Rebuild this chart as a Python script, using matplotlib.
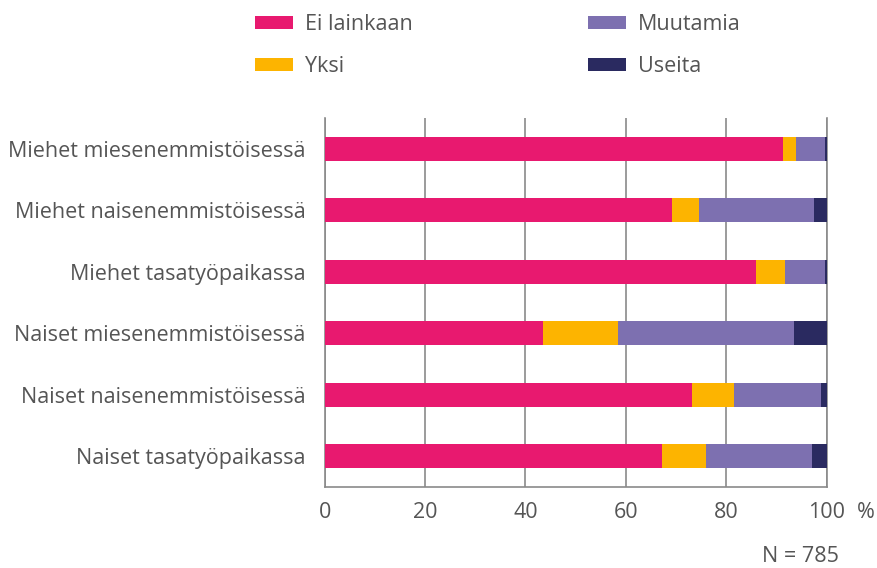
import numpy as np
import matplotlib.pyplot as plt

plt.rcParams['font.family'] = ['Open Sans', 'DejaVu Sans']

categories = ['Miehet miesenemmistöisessä', 'Miehet naisenemmistöisessä',
              'Miehet tasatyöpaikassa', 'Naiset miesenemmistöisessä',
              'Naiset naisenemmistöisessä', 'Naiset tasatyöpaikassa']
ei_lainkaan = [91.3, 69.1, 86.0, 43.5, 73.1, 67.1]
yksi = [2.5, 5.4, 5.6, 14.9, 8.4, 8.9]
muutamia = [5.8, 23.0, 8.0, 35.1, 17.3, 21.1]
useita = [0.4, 2.5, 0.4, 6.5, 1.2, 2.9]

series = [('Ei lainkaan', ei_lainkaan, '#E8196F'),
          ('Yksi', yksi, '#FDB400'),
          ('Muutamia', muutamia, '#7D70B0'),
          ('Useita', useita, '#2A2A60')]

text_col = '#555555'
grid_col = '#8a8a8a'
fs = 15.5

fig = plt.figure(figsize=(8.78, 5.68), dpi=100)
ax = fig.add_axes([324.7 / 878, 1 - 487 / 568, 502 / 878, 369 / 568])

y = np.arange(len(categories))
left = np.zeros(len(categories))
for name, vals, col in series:
    ax.barh(y, vals, left=left, height=0.39, color=col, label=name, linewidth=0, zorder=3)
    left += np.array(vals)

ax.set_xlim(0, 100)
ax.set_ylim(len(categories) - 0.5, -0.5)
ax.set_yticks(y)
ax.set_yticklabels(categories, fontsize=fs, color=text_col)
ax.set_xticks([0, 20, 40, 60, 80, 100])
ax.set_xticklabels(['0', '20', '40', '60', '80', '100'], fontsize=fs, color=text_col)
ax.tick_params(axis='y', length=0, pad=14)
ax.tick_params(axis='x', length=0, pad=11)
ax.grid(axis='x', color=grid_col, linewidth=1.2, zorder=0)
ax.spines['top'].set_visible(False)
for s in ['left', 'bottom', 'right']:
    ax.spines[s].set_color(grid_col)
    ax.spines[s].set_linewidth(1.2)

fig.text(866 / 878, 1 - 512 / 568, '%', fontsize=fs, color=text_col, ha='center', va='center')
fig.text(800 / 878, 1 - 556 / 568, 'N = 785', fontsize=fs, color=text_col, ha='center', va='center')

ax.legend(loc='upper left', bbox_to_anchor=(255 / 878, 1 - 14 / 568),
          bbox_transform=fig.transFigure, ncol=2, frameon=False, fontsize=fs,
          handlelength=1.75, handleheight=0.6, handletextpad=0.55,
          columnspacing=8.17, labelspacing=0.98, borderpad=0, borderaxespad=0,
          labelcolor=text_col)

fig.savefig('out.png', dpi=100)
